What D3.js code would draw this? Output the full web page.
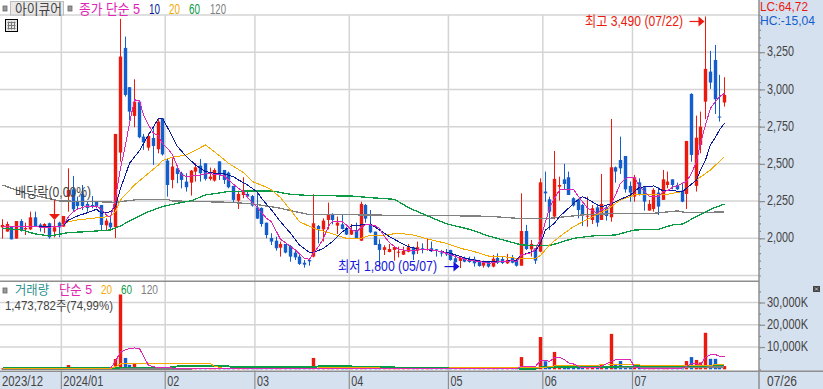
<!DOCTYPE html>
<html>
<head>
<meta charset="utf-8">
<script src="https://cdn.jsdelivr.net/npm/d3@7"></script>
<style>
  html, body { margin: 0; padding: 0; background: #fff; overflow: hidden; }
  text { font-family: "Liberation Sans", "Noto Sans CJK KR", sans-serif; font-size: 13px; }
</style>
</head>
<body>
<div id="chart"></div>
<script>
// candles (price in won)
var opens = [
  2074,2045,2078,1998,2116,2060,2060,2141,2092,2078,
  2101,2045,2105,2078,2280,2329,2246,2298,2231,2224,
  2246,2224,2087,2105,2074,2576,3279,3015,2822,2918,
  2683,2609,2674,2598,2806,2522,2392,2470,2437,2381,
  2374,2448,2488,2504,2399,2388,2517,2459,2441,2352,
  2253,2291,2298,2284,2208,2204,2105,2002,1984,1937,
  1962,1948,1904,1877,1836,1854,1877,2083,2060,2123,
  2164,2085,2094,2069,2025,2056,1984,2224,2094,2045,
  1962,1922,1908,1922,1904,1890,1910,1940,1917,1933,
  1922,1933,1926,1904,1904,1922,1866,1848,1870,1850,
  1859,1850,1816,1845,1810,1868,1861,1832,1872,1854,
  1816,2049,1926,1933,1910,2314,2262,2146,2347,2396,
  2410,2269,2262,2224,2146,2123,2208,2123,2208,2141,
  2477,2526,2553,2352,2280,2376,2343,2186,2197,2307,
  2258,2358,2396,2358,2320,2298,2970,2352,2627,2918,
  3120,3198,2818,2912];
var highs = [
  2128,2112,2078,2116,2128,2105,2179,2179,2101,2101,
  2105,2123,2112,2150,2470,2419,2280,2358,2246,2284,
  2246,2224,2134,2141,2701,3474,3355,3015,3068,2918,
  2701,2706,2739,2806,2806,2538,2538,2470,2448,2437,
  2459,2504,2533,2504,2475,2470,2517,2459,2448,2352,
  2320,2410,2325,2291,2314,2208,2105,2034,2011,1978,
  1962,1955,1922,1892,1854,1866,2296,2090,2134,2240,
  2168,2146,2161,2078,2096,2105,2246,2231,2190,2045,
  1993,1953,1962,1944,1944,1944,1962,1944,1978,1966,
  1996,1978,1928,1922,1928,1922,1895,1872,1877,1877,
  1877,1854,1850,1848,1888,1899,1881,1895,1888,1861,
  2302,2090,1989,1933,2403,2448,2280,2587,2414,2500,
  2448,2276,2267,2231,2280,2224,2224,2432,2224,2802,
  2482,2683,2553,2381,2426,2403,2343,2258,2336,2343,
  2459,2448,2396,2374,2374,2654,2974,2824,2851,3490,
  3259,3299,3098,3082];
var lows = [
  1998,2045,1993,1998,2045,2022,2056,2078,2045,2034,
  1998,2007,2007,2078,2179,2179,2190,2190,2179,2202,
  2202,2052,2056,2052,2002,2515,2952,2791,2746,2672,
  2594,2589,2493,2571,2556,2280,2336,2370,2336,2314,
  2287,2381,2381,2388,2388,2381,2392,2365,2336,2242,
  2197,2269,2269,2213,2130,2078,2000,1955,1917,1877,
  1899,1843,1854,1821,1803,1816,1872,1966,1978,2060,
  2094,2029,2060,2022,2022,2000,1982,2105,2034,1955,
  1810,1888,1906,1850,1872,1888,1906,1854,1895,1899,
  1917,1908,1877,1877,1881,1850,1836,1800,1839,1836,
  1810,1810,1803,1803,1805,1828,1828,1828,1832,1810,
  1816,1922,1877,1828,1906,2246,2056,2128,2253,2329,
  2291,2213,2134,2083,2078,2096,2078,2123,2119,2112,
  2374,2432,2307,2246,2246,2287,2186,2186,2179,2157,
  2258,2336,2329,2325,2242,2197,2515,2314,2571,2800,
  3004,2835,2784,2885];
var closes = [
  2090,2096,1993,2116,2056,2069,2141,2078,2078,2096,
  2007,2074,2074,2150,2325,2195,2217,2217,2204,2217,
  2213,2090,2119,2074,2701,3221,2963,2851,2918,2679,
  2645,2688,2620,2784,2564,2358,2482,2432,2392,2343,
  2455,2477,2437,2399,2414,2459,2426,2392,2343,2258,
  2298,2314,2280,2220,2132,2096,2022,1978,1933,1962,
  1904,1877,1872,1828,1823,1845,2101,2060,2119,2159,
  2123,2105,2063,2025,2056,2000,2231,2132,2040,1955,
  1922,1940,1928,1942,1910,1915,1940,1892,1940,1922,
  1928,1913,1922,1899,1892,1854,1839,1870,1843,1841,
  1832,1814,1836,1810,1863,1836,1834,1854,1836,1816,
  2049,1928,1962,1850,2376,2302,2179,2399,2358,2365,
  2291,2220,2190,2150,2152,2202,2105,2231,2150,2477,
  2448,2470,2329,2307,2410,2298,2246,2231,2325,2213,
  2396,2381,2358,2329,2246,2654,2560,2676,2750,3138,
  3046,2934,2811,2963];
// traded volume, thousand shares
var volumes = [
  350,400,450,500,400,300,450,400,300,300,
  350,350,300,500,1900,500,400,400,350,300,
  350,450,350,350,4640,33600,5100,2000,2400,900,
  500,600,500,700,600,800,500,400,400,350,
  400,350,400,350,300,350,350,300,350,400,
  350,350,300,300,300,350,300,300,350,300,
  300,300,250,300,250,300,5100,700,500,500,
  500,400,350,350,300,350,900,500,400,400,
  350,300,300,300,250,300,300,300,300,250,
  300,250,250,250,250,300,250,300,250,250,
  250,250,300,250,350,300,250,300,300,300,
  5500,800,600,700,14500,3600,1100,7800,900,1600,
  900,800,700,600,500,900,600,2400,700,15900,
  2400,3700,1300,1300,900,900,700,500,700,500,
  500,500,400,350,400,3700,5500,4200,3100,16400,
  4700,4700,1800,1474];

// price moving averages. 5 has one reading per candle, the slow ones are [candle, price] vertices
var ma5 = [
  2078,2078,2078,2078,2078,2078,2078,2078,2075,2075,
  2075,2078,2078,2090,2146,2179,2195,2208,2217,2213,
  2217,2195,2157,2141,2269,2470,2627,2773,2930,2925,
  2829,2762,2706,2688,2638,2605,2560,2482,2426,2414,
  2419,2419,2426,2432,2437,2426,2426,2419,2392,2363,
  2336,2314,2276,2242,2208,2172,2134,2112,2045,1993,
  1971,1944,1922,1895,1866,1859,1899,1944,2000,2083,
  2112,2110,2110,2090,2056,2045,2074,2090,2090,2083,
  2067,2011,1971,1944,1926,1922,1917,1917,1922,1924,
  1926,1922,1917,1910,1899,1888,1877,1868,1859,1850,
  1848,1843,1839,1832,1836,1841,1845,1845,1850,1843,
  1888,1895,1904,1926,1993,2112,2202,2269,2325,2325,
  2325,2329,2280,2246,2202,2186,2168,2190,2202,2235,
  2291,2370,2403,2410,2408,2347,2314,2280,2280,2284,
  2314,2320,2343,2352,2370,2381,2437,2515,2638,2762,
  2874,2918,2952,2974];
var ma10 = [[0,2078],[12,2078],[13,2090],[14,2123],[16,2150],[18,2172],[20,2195],[21,2168],[23,2179],[24,2213],
  [25,2336],[26,2426],[27,2504],[29,2589],[31,2694],[33,2806],[34,2806],[36,2683],[37,2616],[39,2549],
  [41,2493],[43,2448],[45,2437],[47,2432],[49,2414],[50,2392],[52,2358],[54,2310],[55,2269],[57,2190],
  [59,2112],[61,2034],[63,1955],[65,1904],[66,1904],[68,1933],[70,1978],[72,2045],[74,2083],[76,2090],
  [78,2096],[80,2056],[82,2011],[84,1978],[86,1944],[88,1928],[92,1917],[95,1899],[97,1877],[99,1859],
  [102,1843],[106,1843],[109,1854],[110,1888],[113,1917],[114,1966],[115,2056],[117,2101],[118,2146],[120,2202],
  [121,2235],[123,2280],[124,2264],[126,2224],[127,2213],[129,2231],[131,2262],[133,2291],[135,2343],[137,2347],
  [138,2352],[140,2318],[142,2320],[144,2314],[145,2336],[147,2392],[148,2459],[149,2526],[150,2627],[151,2679],
  [152,2728],[153,2773]];
var ma20 = [[0,2078],[12,2078],[14,2112],[16,2123],[21,2141],[23,2146],[24,2179],[25,2258],[28,2358],[31,2437],
  [33,2493],[34,2522],[36,2544],[39,2560],[43,2627],[45,2582],[48,2504],[51,2441],[53,2381],[56,2343],
  [57,2325],[59,2273],[61,2190],[63,2112],[66,2067],[69,2038],[73,2000],[76,2000],[78,2022],[81,2022],
  [84,2034],[87,2022],[91,1989],[94,1966],[97,1933],[100,1910],[103,1881],[106,1877],[109,1866],[113,1866],
  [114,1885],[116,1955],[118,2011],[121,2078],[125,2146],[128,2190],[131,2258],[134,2291],[137,2291],[140,2291],
  [144,2314],[147,2392],[150,2459],[153,2549]];
var ma60 = [[0,2067],[4,2056],[7,2029],[10,2016],[14,2038],[18,2045],[23,2056],[25,2083],[28,2134],[31,2179],
  [34,2213],[37,2235],[40,2253],[43,2291],[48,2314],[53,2318],[57,2318],[61,2296],[65,2287],[74,2284],
  [78,2273],[83,2262],[86,2206],[90,2150],[94,2098],[99,2060],[103,2016],[110,1955],[116,1950],[121,2000],
  [125,2016],[130,2022],[134,2056],[139,2060],[142,2090],[144,2096],[147,2146],[150,2195],[153,2231]];
var ma120 = [[0,2358],[2,2336],[5,2302],[12,2251],[20,2246],[24,2242],[29,2262],[35,2262],[36,2251],[48,2242],
  [53,2231],[59,2202],[61,2186],[65,2159],[78,2157],[86,2152],[94,2152],[103,2148],[110,2132],[116,2134],
  [123,2157],[131,2168],[138,2168],[143,2184],[145,2172],[153,2177]];

// volume moving averages, [candle, thousand shares]
var vol5 = [[23,500],[24,3600],[25,7800],[26,8700],[27,9300],[28,9600],[29,9300],[30,5900],[31,1800],[32,1200],
  [33,700],[40,400],[50,300],[60,200],[66,300],[67,400],[70,200],[100,200],[109,300],[110,1300],
  [113,1300],[114,3900],[115,3900],[116,3600],[117,5100],[118,5400],[119,4300],[120,2900],[121,2400],[122,1300],
  [123,600],[126,600],[127,1300],[128,2400],[129,3600],[130,4300],[132,4600],[133,4300],[134,900],[135,600],
  [137,300],[142,300],[144,600],[145,1300],[146,2400],[147,2400],[148,2100],[149,5400],[150,6600],[151,6600],
  [152,5900],[153,5700]];
var vol20 = [[0,300],[23,300],[24,1200],[25,2400],[28,2700],[44,2550],[45,1300],[46,900],[47,300],[66,300],
  [67,600],[80,600],[81,300],[110,900],[115,900],[117,1500],[126,1800],[128,2400],[134,2100],[136,1800],
  [144,1500],[149,1800],[153,2100]];
var vol60 = [[0,450],[9,450],[11,450],[24,450],[25,750],[36,900],[37,1350],[48,1350],[49,900],[66,900],
  [67,1350],[74,1350],[75,900],[83,900],[84,450],[109,450],[110,150],[113,150],[114,900],[126,900],
  [134,1350],[144,1350],[150,1650],[153,1800]];
var vol120 = [[0,150],[40,200],[80,250],[110,600],[134,1000],[153,1100]];

// axis ticks and labels
var priceTicks = [2000, 2250, 2500, 2750, 3000, 3250];
var priceGrid = [1750, 2000, 2250, 2500, 2750, 3000, 3250, 3500];
var priceMinor = d3.range(1750, 3501, 50);
var volTicks = [10000, 20000, 30000];
var volMinor = d3.range(0, 35001, 5000);
var monthStarts = [13, 35, 54, 74, 95, 115, 134];
var monthLabels = ["2024/01", "02", "03", "04", "05", "06", "07"];

var RED = "#ec1a0e", BLUE = "#145dcc", MAGENTA = "#e024b4", NAVY = "#0a1a9c",
    ORANGE = "#f5a900", GREEN = "#0c9a45", GRAY = "#808080", PANEL = "#d6e1ef",
    GRID = "#d4d4d4", AXIS = "#8e8e8e", INK = "#444444";

var W = 823, H = 389, plotRight = 759;

var svg = d3.select("#chart").append("svg").attr("width", W).attr("height", H);

var x = d3.scaleBand().domain(d3.range(opens.length)).range([0, 726.9])
          .paddingInner(0.28).paddingOuter(0.14);
var y = d3.scaleLinear().domain([2000, 3500]).range([238.3, 15]);
var yVol = d3.scaleLinear().domain([0, 30000]).range([369.3, 302.5]);
var barW = x.bandwidth();

// left pixel of the one pixel wick, the body is centred on it
function wx(i) { return Math.round(x(i) + x.bandwidth() / 2 - 0.5); }
function cx(i) { return wx(i) + 0.5; }
function monthX(i) { return x(i) - x.step() * 0.14; }

// label helper, textLength squeezes the glyphs to the narrow width of the original font
function label(px, py, s, color, len, size) {
  var t = svg.append("text").attr("x", px).attr("y", py).attr("fill", color)
     .attr("dominant-baseline", "central").text(s);
  if (len) t.attr("textLength", len).attr("lengthAdjust", "spacingAndGlyphs");
  if (size) t.style("font-size", size + "px");
  return t;
}

// right and bottom panels first
svg.append("rect").attr("x", plotRight).attr("y", 0).attr("width", W - plotRight).attr("height", H).attr("fill", PANEL);
svg.append("rect").attr("x", 0).attr("y", 371).attr("width", W).attr("height", H - 371).attr("fill", PANEL);

// grid
svg.append("g").selectAll("line").data(priceGrid).enter().append("line")
   .attr("x1", 0).attr("x2", plotRight)
   .attr("y1", function(d) { return y(d); }).attr("y2", function(d) { return y(d); })
   .attr("stroke", GRID).attr("stroke-width", 1.5);
svg.append("g").selectAll("line").data(volTicks).enter().append("line")
   .attr("x1", 0).attr("x2", plotRight)
   .attr("y1", function(d) { return yVol(d); }).attr("y2", function(d) { return yVol(d); })
   .attr("stroke", GRID).attr("stroke-width", 1.5);
svg.append("g").selectAll("line").data(monthStarts).enter().append("line")
   .attr("x1", monthX).attr("x2", monthX)
   .attr("y1", 15).attr("y2", 371)
   .attr("stroke", GRID).attr("stroke-width", 1.5);

// candles
var candles = svg.append("g");
opens.forEach(function(o, i) {
  var c = closes[i], color = c >= o ? RED : BLUE;
  candles.append("rect").attr("x", wx(i)).attr("width", 1)
         .attr("y", y(highs[i])).attr("height", y(lows[i]) - y(highs[i])).attr("fill", color);
  candles.append("rect").attr("x", cx(i) - barW / 2).attr("width", barW)
         .attr("y", y(Math.max(o, c))).attr("height", Math.max(1, Math.abs(y(o) - y(c)))).attr("fill", color);
});

// moving averages
var pairLine = d3.line().x(function(d) { return cx(d[0]); }).y(function(d) { return y(d[1]); });
var pairVol = d3.line().x(function(d) { return cx(d[0]); }).y(function(d) { return yVol(d[1]); });
var valueLine = d3.line().x(function(d, i) { return cx(i); }).y(function(d) { return y(d); });

function drawLine(d, color, gen, w) {
  svg.append("path").attr("d", gen(d)).attr("fill", "none").attr("stroke", color)
     .attr("stroke-width", w || 1).attr("shape-rendering", "crispEdges");
}
drawLine(ma120, GRAY, pairLine, 1.3);
drawLine(ma60, GREEN, pairLine, 1.3);
drawLine(ma20, ORANGE, pairLine);
drawLine(ma10, NAVY, pairLine);
drawLine(ma5, MAGENTA, valueLine);

// volume bars and their averages
svg.append("g").selectAll("rect").data(volumes).enter().append("rect")
   .attr("x", function(d, i) { return cx(i) - barW / 2; })
   .attr("width", barW)
   .attr("y", function(d) { return yVol(d); })
   .attr("height", function(d) { return yVol(0) - yVol(d); })
   .attr("fill", function(d, i) { return closes[i] >= opens[i] ? RED : BLUE; });
drawLine(vol120, GRAY, pairVol, 1.3);
drawLine(vol60, GREEN, pairVol, 1.6);
drawLine(vol20, ORANGE, pairVol);
drawLine(vol5, MAGENTA, pairVol);

// frame lines
[281.3, 371.3].forEach(function(py) {
  svg.append("line").attr("x1", 0).attr("x2", py > 300 ? W : plotRight).attr("y1", py).attr("y2", py)
     .attr("stroke", AXIS).attr("stroke-width", 1.5);
});
svg.append("line").attr("x1", plotRight).attr("x2", plotRight).attr("y1", 0).attr("y2", H)
   .attr("stroke", AXIS).attr("stroke-width", 1.5);
monthStarts.forEach(function(i) {
  svg.append("line").attr("x1", monthX(i)).attr("x2", monthX(i)).attr("y1", 371).attr("y2", H)
     .attr("stroke", AXIS).attr("stroke-width", 1.2);
});

// right axes
var yAxisMinor = d3.axisRight(y).tickValues(priceMinor).tickSize(2).tickFormat("");
var yAxis = d3.axisRight(y).tickValues(priceTicks).tickSize(6).tickPadding(2).tickFormat(d3.format(","));
var volAxisMinor = d3.axisRight(yVol).tickValues(volMinor).tickSize(2).tickFormat("");
var volAxis = d3.axisRight(yVol).tickValues(volTicks).tickSize(6).tickPadding(2)
                .tickFormat(function(d) { return d3.format(",")(d) + "K"; });

[[yAxisMinor, 0], [yAxis, 27], [volAxisMinor, 0], [volAxis, 41]].forEach(function(a) {
  var g = svg.append("g").attr("transform", "translate(" + plotRight + ",0)").call(a[0]);
  g.select(".domain").remove();
  g.selectAll("line").attr("stroke", AXIS).attr("stroke-width", 1.2);
  g.selectAll("text").attr("fill", INK).attr("x", 8).attr("dy", "0.26em")
   .style("font-size", "14px")
   .attr("textLength", a[1] || null).attr("lengthAdjust", "spacingAndGlyphs");
});

// bottom axis labels
label(2, 381, "2023/12", INK, 41, 14);
monthLabels.forEach(function(s, i) {
  label(monthX(monthStarts[i]) + 2, 381, s, INK, s.length > 2 ? 40 : 12, 14);
});
label(767, 381, "07/26", INK, 30, 14);

// top legend
function bullet(px, py) {
  svg.append("rect").attr("x", px).attr("y", py).attr("width", 4).attr("height", 5)
     .attr("fill", "#999").attr("stroke", "#666").attr("stroke-width", 0.8);
}
bullet(3, 6);
svg.append("rect").attr("x", 10.5).attr("y", 1.5).attr("width", 53).attr("height", 13.5)
   .attr("fill", "#e9e9e9").attr("stroke", "#bdbdbd");
label(15, 8.5, "아이큐어", INK, 47, 14);
bullet(68, 6);
label(79, 8.5, "종가 단순 5", MAGENTA, 61, 14);
label(149, 8.5, "10", NAVY, 11, 14);
label(169, 8.5, "20", ORANGE, 11, 14);
label(189, 8.5, "60", GREEN, 11, 14);
label(210, 8.5, "120", GRAY, 16, 14);

// little table icon
var icon = svg.append("g").attr("transform", "translate(5.5,19.5)");
icon.append("rect").attr("width", 12).attr("height", 12).attr("fill", "#e8e8e8").attr("stroke", "#000").attr("stroke-width", 1);
[3, 6, 9].forEach(function(p) {
  icon.append("line").attr("x1", p).attr("x2", p).attr("y1", 2).attr("y2", 10).attr("stroke", "#777");
  icon.append("line").attr("x1", 2).attr("x2", 10).attr("y1", p).attr("y2", p).attr("stroke", "#777");
});

// indicator readouts
label(760, 7, "LC:64,72", RED, 48, 12);
label(760, 20.8, "HC:-15,04", BLUE, 55, 12);

// high / low notes
function sideArrow(tipX, py, color) {
  svg.append("line").attr("x1", tipX - 15).attr("x2", tipX - 5).attr("y1", py).attr("y2", py)
     .attr("stroke", color).attr("stroke-width", 1.2);
  svg.append("path").attr("d", d3.line()([[tipX - 6, py - 5], [tipX, py], [tipX - 6, py + 5]]) + "Z").attr("fill", color);
}
label(585, 20.5, "최고 3,490 (07/22)", RED, 98, 14);
sideArrow(cx(149) - 1, y(3490) + 5, RED);
label(338, 265.5, "최저 1,800 (05/07)", "#1414dc", 99, 14);
sideArrow(cx(97) - 1, y(1800) - 1.5, "#1414dc");

// ex-dividend marker
label(15, 192, "배당락(0,00%)", INK, 76, 14);
var mark = cx(11);
svg.append("line").attr("x1", mark).attr("x2", mark).attr("y1", 200).attr("y2", 216)
   .attr("stroke", RED).attr("stroke-width", 1.2);
svg.append("path").attr("d", d3.line()([[mark - 5.5, 214], [mark + 5.5, 214], [mark, 220]]) + "Z").attr("fill", RED);

// volume legend
bullet(3, 288);
label(15, 289.5, "거래량", "#2e9090", 34);
label(59, 289.5, "단순 5", MAGENTA, 33);
label(101, 289.5, "20", ORANGE, 11);
label(121, 289.5, "60", GREEN, 11);
label(141, 289.5, "120", GRAY, 17);
label(5, 305, "1,473,782주(74,99%)", INK, 108);

// close box of the volume panel
svg.append("rect").attr("x", 813).attr("y", 286).attr("width", 7).attr("height", 6).attr("fill", "#444");
svg.append("path").attr("d", "M815,287.5L818,290.5M818,287.5L815,290.5").attr("stroke", "#ddd").attr("stroke-width", 0.8);
</script>
</body>
</html>
